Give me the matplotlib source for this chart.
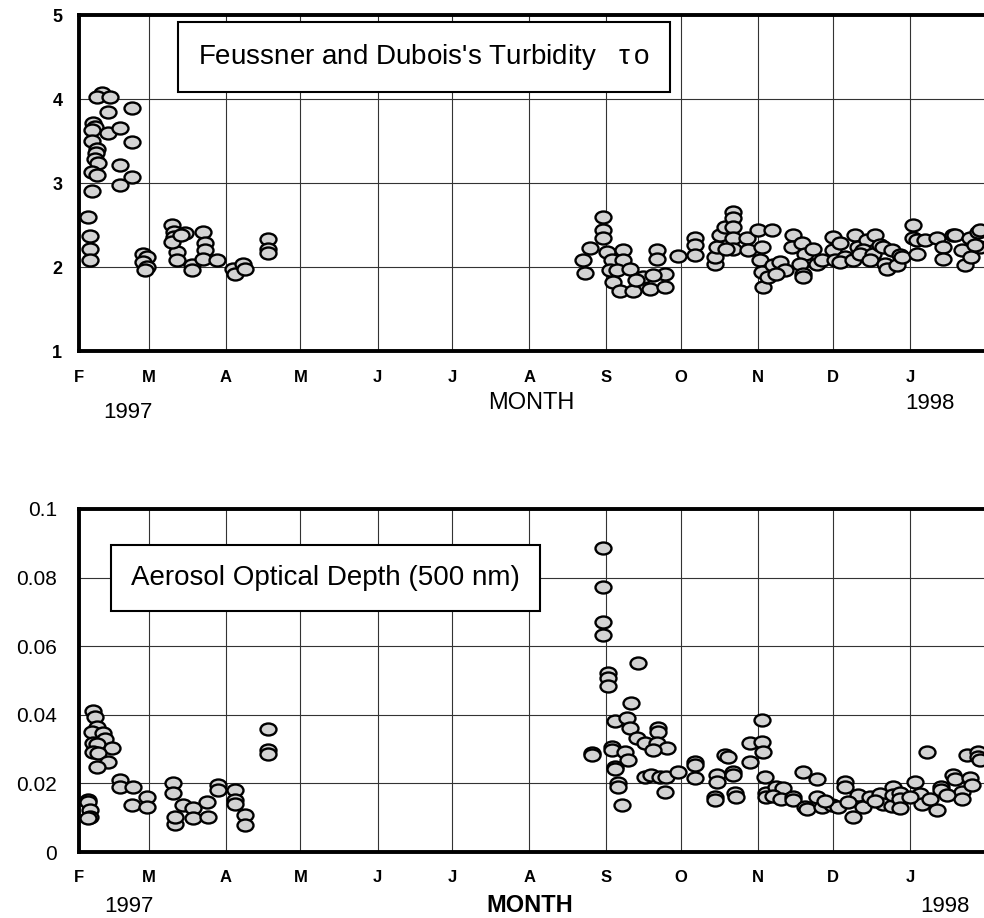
import matplotlib
matplotlib.use('Agg')
import matplotlib.pyplot as plt
from matplotlib.path import Path
from matplotlib.transforms import Affine2D
import numpy as np

plt.rcParams['font.family'] = ['Liberation Sans', 'DejaVu Sans']
plt.rcParams['mathtext.default'] = 'regular'

# x = days since 1 Feb 1997
month_starts = [0, 28, 59, 89, 120, 150, 181, 212, 242, 273, 303, 334]
month_labels = ['F', 'M', 'A', 'M', 'J', 'J', 'A', 'S', 'O', 'N', 'D', 'J']

# Feussner and Dubois's turbidity (day, value)
tau_points = [
    (9.4, 4.07), (7.1, 4.02), (12.5, 4.02), (11.5, 3.85), (21.4, 3.89), (5.7, 3.71),
    (6.4, 3.67), (5.1, 3.63), (11.8, 3.60), (16.5, 3.65), (21.4, 3.49), (5.1, 3.50),
    (7.1, 3.41), (6.7, 3.36), (6.4, 3.29), (7.5, 3.24), (5.1, 3.13), (7.1, 3.09),
    (16.5, 3.21), (21.4, 3.07), (16.5, 2.98), (5.1, 2.91), (3.5, 2.59), (4.4, 2.37),
    (4.4, 2.22), (4.4, 2.08),
    (25.8, 2.16), (27.2, 2.12), (25.8, 2.06), (27.2, 2.00), (26.5, 1.96),
    (37.3, 2.50), (38.0, 2.42), (42.6, 2.40), (38.0, 2.36), (39.3, 2.18), (39.3, 2.08),
    (45.3, 2.02), (45.5, 1.96), (49.9, 2.42), (50.6, 2.28), (50.6, 2.20), (49.9, 2.10),
    (55.3, 2.08), (37.5, 2.30), (41.0, 2.38),
    (62.0, 1.98), (62.7, 1.92), (66.0, 2.04), (66.7, 1.98),
    (76.1, 2.33), (76.1, 2.22), (76.1, 2.17),
    (202.7, 2.08), (203.4, 1.93), (205.4, 2.23), (210.5, 2.60), (210.5, 2.44), (210.5, 2.35),
    (212.1, 2.18), (214.1, 2.08), (218.8, 2.20), (218.8, 2.08), (213.4, 1.96), (216.1, 1.96),
    (221.5, 1.98), (214.8, 1.82), (217.4, 1.72), (222.8, 1.72), (226.8, 1.88), (229.5, 1.74),
    (232.2, 2.20), (232.2, 2.10), (235.5, 1.92), (235.5, 1.76), (230.8, 1.90), (224.1, 1.84),
    (240.9, 2.13), (247.6, 2.34), (247.6, 2.26), (247.6, 2.14), (255.6, 2.04), (255.6, 2.12),
    (256.3, 2.24), (257.6, 2.38), (259.6, 2.48), (263.0, 2.65), (263.0, 2.58), (263.0, 2.48),
    (263.0, 2.34), (263.0, 2.22), (260.0, 2.22), (268.4, 2.34), (268.9, 2.20), (273.0, 2.44),
    (278.4, 2.44), (274.4, 2.24), (273.7, 2.08), (274.4, 1.94), (275.0, 1.76), (277.0, 1.88),
    (279.0, 2.02), (281.7, 2.06), (283.8, 1.96), (280.0, 1.92),
    (287.0, 2.38), (286.5, 2.24), (290.5, 2.28), (291.8, 2.16), (289.8, 2.04), (291.1, 1.92),
    (291.0, 1.88), (295.0, 2.22), (296.5, 2.04), (298.5, 2.08), (303.2, 2.36), (303.2, 2.20),
    (304.0, 2.08), (305.9, 2.28), (308.0, 2.12), (306.0, 2.06), (311.9, 2.38), (313.0, 2.24),
    (311.0, 2.08), (316.6, 2.32), (315.0, 2.20), (314.0, 2.16), (319.9, 2.38), (319.0, 2.16),
    (318.0, 2.08), (322.0, 2.26), (323.0, 2.24), (324.0, 2.04), (325.0, 1.98), (327.0, 2.20),
    (330.0, 2.14), (329.0, 2.02), (331.0, 2.12), (335.3, 2.50), (335.3, 2.34), (337.0, 2.16),
    (336.7, 2.32), (340.0, 2.32), (344.7, 2.34), (347.4, 2.24), (347.4, 2.10), (351.4, 2.38),
    (352.0, 2.38), (355.0, 2.20), (356.0, 2.02), (358.0, 2.34), (358.6, 2.12), (361.5, 2.42),
    (362.0, 2.44), (362.0, 2.24), (360.0, 2.26),
]

# aerosol optical depth at 500 nm (day, value)
aod_points = [
    (5.8, 0.0412), (6.4, 0.0395), (7.1, 0.0365), (5.1, 0.0351), (9.8, 0.0346), (10.5, 0.0329),
    (5.8, 0.0317), (7.1, 0.0314), (13.1, 0.0302), (5.8, 0.0292), (7.5, 0.0290), (11.8, 0.0263),
    (7.1, 0.0247), (3.7, 0.0151), (3.7, 0.0146), (4.4, 0.0122), (4.4, 0.0103), (3.7, 0.0099),
    (16.5, 0.0210), (16.5, 0.0190), (21.8, 0.0190), (21.2, 0.0137), (27.2, 0.0161), (27.2, 0.0132),
    (37.9, 0.0200), (37.9, 0.0171), (38.6, 0.0083), (38.6, 0.0102), (41.9, 0.0137), (45.9, 0.0127),
    (45.9, 0.0098), (51.3, 0.0146), (52.0, 0.0103), (56.0, 0.0195), (56.0, 0.0181), (62.7, 0.0180),
    (62.7, 0.0151), (62.7, 0.0141), (66.7, 0.0107), (66.7, 0.0078),
    (76.1, 0.0358), (76.1, 0.0297), (76.1, 0.0285),
    (210.7, 0.0886), (210.7, 0.0774), (210.7, 0.0672), (210.7, 0.0633), (212.7, 0.0521),
    (212.7, 0.0507), (212.7, 0.0484), (224.8, 0.0552), (221.7, 0.0434), (215.4, 0.0383),
    (220.1, 0.0390), (221.5, 0.0361), (224.2, 0.0331), (227.5, 0.0317), (232.9, 0.0361),
    (232.9, 0.0351), (232.2, 0.0317), (236.2, 0.0302), (230.8, 0.0297), (206.1, 0.0288),
    (206.1, 0.0284), (214.1, 0.0307), (214.1, 0.0297), (219.5, 0.0292), (220.8, 0.0268),
    (215.4, 0.0249), (215.4, 0.0242), (216.8, 0.0200), (216.8, 0.0190), (218.1, 0.0137),
    (227.5, 0.0219), (230.0, 0.0224), (233.5, 0.0219), (236.0, 0.0219), (235.5, 0.0175),
    (240.9, 0.0234), (247.6, 0.0263), (247.6, 0.0253), (247.6, 0.0215), (256.3, 0.0224),
    (256.3, 0.0205), (255.6, 0.0161), (255.6, 0.0151), (259.6, 0.0283), (261.0, 0.0278),
    (263.0, 0.0234), (263.0, 0.0224), (263.7, 0.0171), (264.0, 0.0161), (269.7, 0.0317),
    (269.7, 0.0263), (274.4, 0.0385), (274.4, 0.0322), (275.0, 0.0292), (275.7, 0.0219),
    (276.0, 0.0171), (276.0, 0.0161),
    (291.1, 0.0234), (296.5, 0.0212), (280.3, 0.0190), (283.0, 0.0187), (279.0, 0.0163),
    (282.0, 0.0155), (287.0, 0.0161), (287.0, 0.0152), (291.8, 0.0132), (292.5, 0.0124),
    (296.5, 0.0161), (298.5, 0.0132), (302.5, 0.0137), (307.9, 0.0205), (307.9, 0.0190),
    (305.0, 0.0132), (311.2, 0.0103), (313.0, 0.0166), (315.0, 0.0132), (318.0, 0.0160),
    (322.0, 0.0170), (323.0, 0.0140), (327.0, 0.0135), (327.3, 0.0190), (327.3, 0.0165),
    (330.0, 0.0172), (330.0, 0.0155), (330.0, 0.0128), (336.0, 0.0205), (338.0, 0.0170),
    (339.0, 0.0140), (340.7, 0.0292), (346.7, 0.0190), (346.7, 0.0180), (344.7, 0.0122),
    (351.4, 0.0224), (352.0, 0.0212), (356.8, 0.0283), (355.0, 0.0175), (355.0, 0.0155),
    (358.0, 0.0215), (359.0, 0.0195), (361.5, 0.0292), (361.5, 0.0278), (362.0, 0.0268),
    (300.0, 0.0150), (309.0, 0.0145), (320.0, 0.0150), (334.0, 0.0160), (342.0, 0.0155),
    (349.0, 0.0165),
]

tau_day, tau_val = np.array(tau_points).T
aod_day, aod_val = np.array(aod_points).T

# flattened circle marker
ellipse = Path.unit_circle().transformed(Affine2D().scale(1.0, 0.75))

W, H = 984, 918
fig = plt.figure(figsize=(W / 100, H / 100), dpi=100)

def px(x, y):
    return x / W, 1 - y / H

ax1 = fig.add_axes([79 / W, 1 - 351 / H, 908 / W, 336 / H])
ax2 = fig.add_axes([79 / W, 1 - 852 / H, 908 / W, 343 / H])

for ax in (ax1, ax2):
    ax.set_xlim(0, 365)
    ax.set_xticks(month_starts)
    ax.set_xticklabels(month_labels, fontweight='bold', fontsize=12)
    ax.grid(True, color='#333333', linewidth=0.8)
    ax.set_axisbelow(True)
    ax.tick_params(length=0)
    for s in ('left', 'top', 'bottom'):
        ax.spines[s].set_linewidth(2.8)
    ax.spines['right'].set_visible(False)

ax1.scatter(tau_day, tau_val, s=11.5 ** 2, marker=ellipse, facecolor='#d3d3d3',
            edgecolor='black', linewidth=1.7, zorder=3, clip_on=False)
ax1.set_ylim(1, 5)
ax1.set_yticks([1, 2, 3, 4, 5])
ax1.set_yticklabels(['1', '2', '3', '4', '5'], fontweight='bold', fontsize=13)
ax1.tick_params(axis='y', pad=12)
ax1.tick_params(axis='x', pad=14)

ax2.scatter(aod_day, aod_val, s=11.5 ** 2, marker=ellipse, facecolor='#d3d3d3',
            edgecolor='black', linewidth=1.7, zorder=3, clip_on=False)
ax2.set_ylim(0, 0.1)
ax2.set_yticks([0, 0.02, 0.04, 0.06, 0.08, 0.1])
ax2.set_yticklabels(['0', '0.02', '0.04', '0.06', '0.08', '0.1'], fontsize=15)
ax2.tick_params(axis='y', pad=16)
ax2.tick_params(axis='x', pad=13)

box = dict(boxstyle='square,pad=0.72', facecolor='white', edgecolor='black', linewidth=1.5)
ax1.text(*px(198, 57), "Feussner and Dubois's Turbidity   $\\tau\\,$o", transform=fig.transFigure,
         fontsize=20, va='center', ha='left', bbox=box, zorder=5)
ax2.text(*px(131, 578), 'Aerosol Optical Depth (500 nm)', transform=fig.transFigure,
         fontsize=20, va='center', ha='left', bbox=box, zorder=5)

fig.text(*px(128, 412), '1997', fontsize=16, ha='center', va='center')
fig.text(*px(531, 403), 'MONTH', fontsize=17, ha='center', va='center')
fig.text(*px(930, 403), '1998', fontsize=16, ha='center', va='center')
fig.text(*px(129, 907), '1997', fontsize=16, ha='center', va='center')
fig.text(*px(530, 906), 'MONTH', fontsize=17, fontweight='bold', ha='center', va='center')
fig.text(*px(945, 906), '1998', fontsize=16, ha='center', va='center')

fig.savefig('out.png', dpi=100)
